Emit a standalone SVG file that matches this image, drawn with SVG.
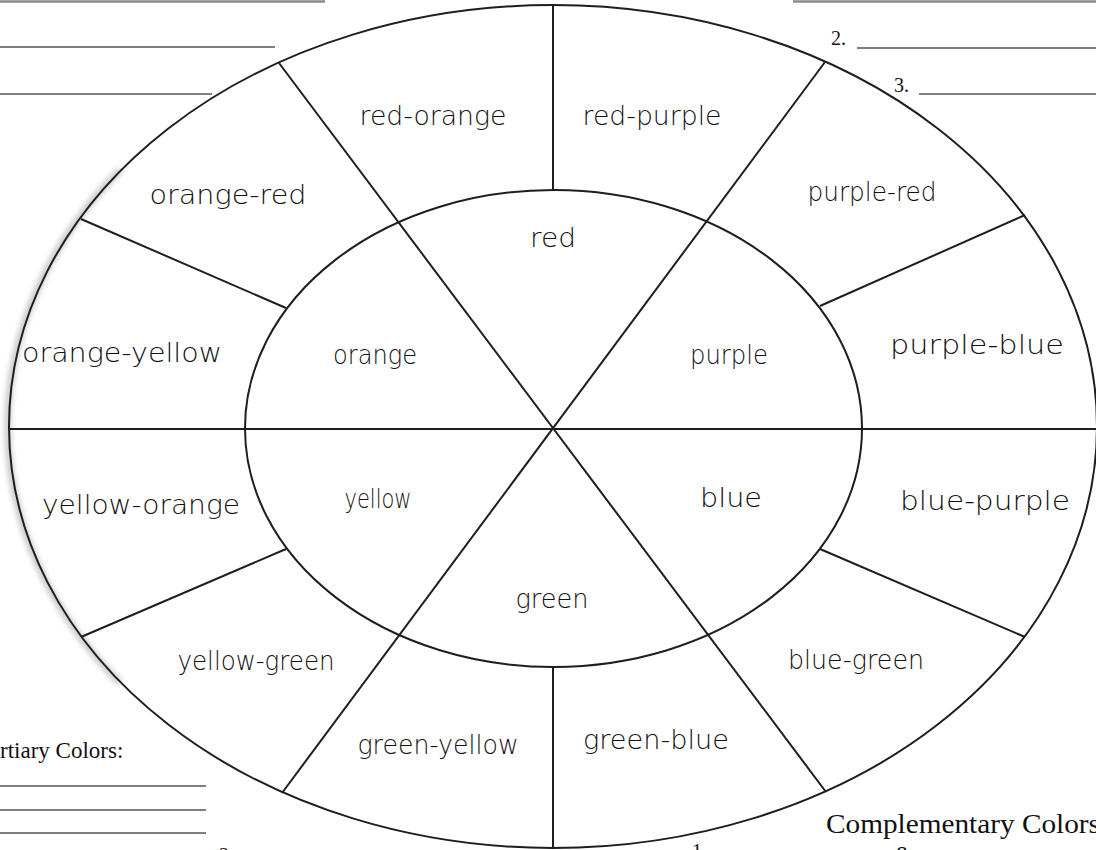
<svg xmlns="http://www.w3.org/2000/svg" width="1096" height="850" viewBox="0 0 1096 850">
<defs>
<filter id="blur" x="-20%" y="-5%" width="140%" height="110%"><feGaussianBlur stdDeviation="2.5"/></filter>
</defs>
<style>
.ln{stroke:#1e1e1e;stroke-width:2;fill:none}
.rule{stroke:#555;stroke-width:1.6}
.top{stroke:#8a8a8a;stroke-width:2.5}
.lab{font-family:"DejaVu Sans","Noto Sans",sans-serif;font-size:27px;font-weight:300;fill:#111;text-anchor:middle}
.ser{font-family:"Liberation Serif","Times New Roman",serif;fill:#111}
</style>
<rect width="1096" height="850" fill="#ffffff"/>
<g id="worksheet-lines">
<line class="top" x1="0" y1="1.5" x2="325" y2="1.5"/>
<line class="top" x1="793" y1="1.5" x2="1096" y2="1.5"/>
<line class="rule" x1="0" y1="47" x2="275" y2="47"/>
<line class="rule" x1="0" y1="94" x2="212" y2="94"/>
<line class="rule" x1="857" y1="48" x2="1096" y2="48"/>
<line class="rule" x1="919" y1="94" x2="1096" y2="94"/>
<line class="rule" x1="0" y1="786" x2="206" y2="786"/>
<line class="rule" x1="0" y1="810" x2="206" y2="810"/>
<line class="rule" x1="0" y1="833" x2="206" y2="833"/>
<text class="ser" x="831" y="45" font-size="20">2.</text>
<text class="ser" x="894" y="92" font-size="20">3.</text>
<text class="ser" x="0" y="758" font-size="23">rtiary Colors:</text>
<text class="ser" x="219" y="862" font-size="20">2</text>
<text class="ser" x="692" y="858" font-size="20">1</text>
<text class="ser" x="826" y="833" font-size="28" textLength="274" lengthAdjust="spacingAndGlyphs">Complementary Colors</text>
<text class="ser" x="893" y="862" font-size="24" font-style="italic">&amp;</text>
</g>
<g id="wheel">
<path d="M 120 170 A 544 421.5 0 0 0 120 683" stroke="#b8b8b8" stroke-width="7" fill="none" filter="url(#blur)" opacity="0.7"/>
<ellipse class="ln" cx="553" cy="426.5" rx="544" ry="421.5"/>
<ellipse class="ln" cx="553.5" cy="428.5" rx="308.5" ry="238.5"/>
</g>
<g id="connectors">
<line class="ln" x1="553" y1="5" x2="553" y2="190"/>
<line class="ln" x1="553" y1="667" x2="553" y2="848"/>
<line class="ln" x1="9" y1="429" x2="1097" y2="429"/>
<line class="ln" x1="279" y1="63" x2="826" y2="792"/>
<line class="ln" x1="825" y1="62" x2="282" y2="793"/>
<line class="ln" x1="81" y1="219" x2="286" y2="308"/>
<line class="ln" x1="1025" y1="215" x2="820" y2="306"/>
<line class="ln" x1="81" y1="637" x2="286" y2="549"/>
<line class="ln" x1="1025" y1="637" x2="820" y2="549"/>
</g>
<g id="n-red-orange"><text class="lab" x="433" y="125" textLength="147" lengthAdjust="spacingAndGlyphs">red-orange</text></g>
<g id="n-red-purple"><text class="lab" x="652" y="125" textLength="139" lengthAdjust="spacingAndGlyphs">red-purple</text></g>
<g id="n-orange-red"><text class="lab" x="228" y="204" textLength="157" lengthAdjust="spacingAndGlyphs">orange-red</text></g>
<g id="n-purple-red"><text class="lab" x="872" y="201" textLength="129" lengthAdjust="spacingAndGlyphs">purple-red</text></g>
<g id="n-red"><text class="lab" x="553" y="247" textLength="46" lengthAdjust="spacingAndGlyphs">red</text></g>
<g id="n-orange-yellow"><text class="lab" x="122" y="362" textLength="200" lengthAdjust="spacingAndGlyphs">orange-yellow</text></g>
<g id="n-orange"><text class="lab" x="375" y="364" textLength="84" lengthAdjust="spacingAndGlyphs">orange</text></g>
<g id="n-purple"><text class="lab" x="729" y="364" textLength="78" lengthAdjust="spacingAndGlyphs">purple</text></g>
<g id="n-purple-blue"><text class="lab" x="977" y="354" textLength="174" lengthAdjust="spacingAndGlyphs">purple-blue</text></g>
<g id="n-yellow-orange"><text class="lab" x="141" y="514" textLength="198" lengthAdjust="spacingAndGlyphs">yellow-orange</text></g>
<g id="n-yellow"><text class="lab" x="378" y="508" textLength="67" lengthAdjust="spacingAndGlyphs">yellow</text></g>
<g id="n-blue"><text class="lab" x="731" y="507" textLength="62" lengthAdjust="spacingAndGlyphs">blue</text></g>
<g id="n-blue-purple"><text class="lab" x="985" y="510" textLength="170" lengthAdjust="spacingAndGlyphs">blue-purple</text></g>
<g id="n-green"><text class="lab" x="552" y="608" textLength="73" lengthAdjust="spacingAndGlyphs">green</text></g>
<g id="n-yellow-green"><text class="lab" x="256" y="670" textLength="157" lengthAdjust="spacingAndGlyphs">yellow-green</text></g>
<g id="n-blue-green"><text class="lab" x="856" y="669" textLength="136" lengthAdjust="spacingAndGlyphs">blue-green</text></g>
<g id="n-green-yellow"><text class="lab" x="438" y="754" textLength="161" lengthAdjust="spacingAndGlyphs">green-yellow</text></g>
<g id="n-green-blue"><text class="lab" x="656" y="749" textLength="146" lengthAdjust="spacingAndGlyphs">green-blue</text></g>
</svg>
